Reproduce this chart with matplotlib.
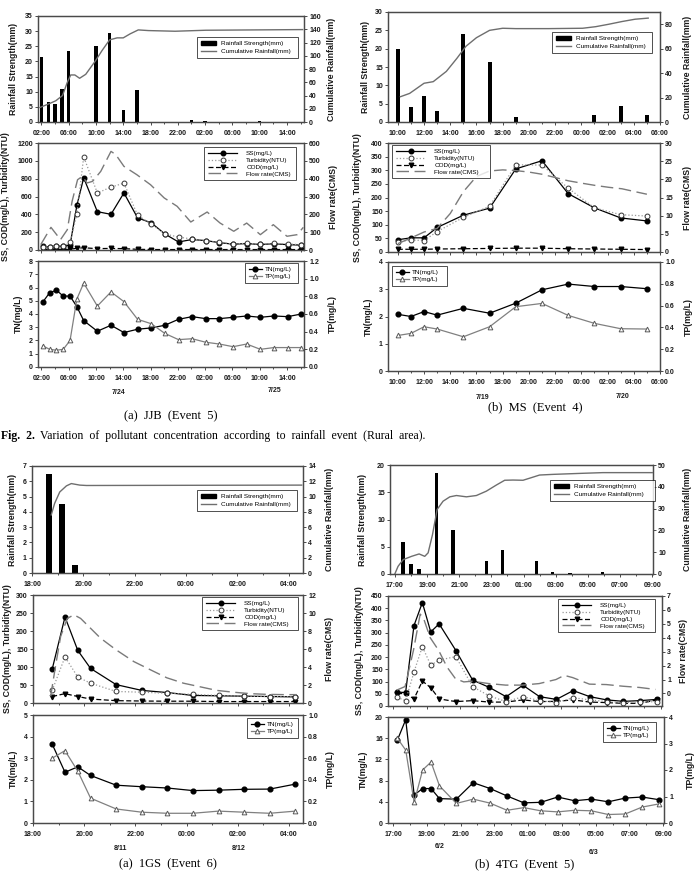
import matplotlib
matplotlib.use("Agg")
import matplotlib.pyplot as plt
from matplotlib.patches import Patch
from matplotlib.lines import Line2D
from matplotlib.ticker import MultipleLocator

W, H = 697, 876
plt.rcParams['font.family'] = ['Liberation Sans', 'DejaVu Sans']

# ---------------- JJB (Event 5), hours after 02:00 7/24 ----------------
jjb_xticks = [0, 4, 8, 12, 16, 20, 24, 28, 32, 36]
jjb_xlabels = ['02:00', '06:00', '10:00', '14:00', '18:00', '22:00',
               '02:00', '06:00', '10:00', '14:00']
jjb_rain_t = [0, 1, 2, 3, 4, 8, 10, 12, 14, 22, 24, 32]
jjb_rain = [21.3, 6.5, 6.0, 11.0, 23.5, 25.0, 29.5, 4.0, 10.5, 0.8, 0.3, 0.3]
jjb_cum_t = [-0.2, 1.0, 2.1, 3.1, 3.8, 4.3, 4.9, 5.6, 6.5, 7.9, 8.9, 10.0,
             11.1, 12.0, 13.0, 14.2, 15.7, 19.6, 24.1, 38.3]
jjb_cum = [22, 27, 32, 40, 60, 71, 71, 66, 72, 92, 108, 124,
           127, 127, 133, 139, 138, 137, 138.5, 139.5]
jjb_t = [0.2, 1.2, 2.2, 3.2, 4.2, 5.2, 6.2, 8.2, 10.2, 12.1, 14.1, 16.1,
         18.1, 20.1, 22.1, 24.1, 26.1, 28.1, 30.1, 32.1, 34.1, 36.1, 38.1]
jjb_ss = [40, 35, 45, 40, 55, 500, 810, 430, 400, 640, 360, 305,
          180, 90, 118, 105, 83, 65, 72, 62, 70, 60, 55]
jjb_turb = [35, 35, 45, 45, 85, 400, 1045, 640, 705, 750, 390, 290,
            180, 145, 123, 105, 86, 67, 75, 64, 75, 67, 60]
jjb_cod = [5, 5, 5, 5, 8, 20, 25, 15, 18, 15, 8, 5,
           5, 5, 5, 5, 5, 5, 5, 5, 5, 5, 5]
jjb_flow_t = [-0.1, 1.4, 2.8, 3.8, 4.5, 5.3, 6.0, 6.7, 7.5, 8.7, 10.2, 10.9,
              12.1, 14.0, 16.0, 18.0, 19.9, 21.9, 24.3, 26.2, 28.2, 30.1,
              32.1, 34.0, 36.0, 37.5, 38.4]
jjb_flow = [30, 127, 58, 114, 273, 394, 413, 376, 385, 441, 553, 535,
            469, 422, 366, 292, 245, 157, 213, 151, 105, 151,
            86, 142, 77, 86, 127]
jjb_tn = [4.9, 5.6, 5.8, 5.35, 5.35, 4.55, 3.5, 2.7, 3.15, 2.6, 2.85, 2.95,
          3.15, 3.6, 3.8, 3.65, 3.65, 3.75, 3.85, 3.75, 3.85, 3.8, 4.0]
jjb_tp = [0.24, 0.2, 0.19, 0.2, 0.3, 0.77, 0.95, 0.69, 0.85, 0.74, 0.54, 0.49,
          0.38, 0.31, 0.32, 0.28, 0.26, 0.23, 0.26, 0.2, 0.22, 0.22, 0.22]

# ---------------- MS (Event 4), hours after 10:00 7/19 ----------------
ms_xticks = [0, 2, 4, 6, 8, 10, 12, 14, 16, 18, 20]
ms_xlabels = ['10:00', '12:00', '14:00', '16:00', '18:00', '20:00',
              '22:00', '00:00', '02:00', '04:00', '06:00']
ms_rain_t = [0, 1, 2, 3, 5, 7, 9, 15, 17, 19]
ms_rain = [19.9, 4.0, 7.0, 2.9, 24.0, 16.5, 1.5, 2.0, 4.5, 2.0]
ms_cum_t = [0.2, 0.9, 2.0, 2.7, 3.7, 4.5, 5.2, 6.0, 7.0, 8.0, 9.0, 11.5,
            14.1, 15.1, 16.1, 17.1, 18.1, 19.1]
ms_cum = [20.7, 23.4, 31.7, 33, 41.4, 52, 62, 69, 75, 76.7, 76.4, 76.4,
          76.7, 78, 80, 82.2, 84.1, 85]
ms_t = [0, 1, 2, 3, 5, 7, 9, 11, 13, 15, 17, 19]
ms_ss = [45, 52, 52, 90, 135, 161, 305, 335, 214, 162, 125, 114]
ms_turb = [37, 44, 42, 75, 127, 168, 320, 319, 234, 162, 137, 132]
ms_cod = [10, 10, 10, 11, 12, 13, 14, 14, 12, 11, 10, 9]
ms_flow_t = [0, 0.9, 2.0, 3.0, 4.0, 5.0, 6.0, 7.0, 8.0, 9.0, 10.0, 11.0,
             12.0, 13.0, 14.1, 15.1, 16.1, 17.1, 18.1, 19.0]
ms_flow = [2.3, 3.7, 5.5, 6.5, 10.6, 16.6, 20.8, 22.3, 22.6, 22.4, 22.0, 21.4,
           20.5, 19.6, 18.9, 18.3, 17.8, 17.4, 16.6, 15.9]
ms_tn = [2.08, 2.0, 2.18, 2.05, 2.3, 2.12, 2.49, 2.98, 3.19, 3.1, 3.1, 3.02]
ms_tp = [0.326, 0.345, 0.406, 0.385, 0.314, 0.406, 0.59, 0.62, 0.51, 0.437,
         0.388, 0.385]

# ---------------- 1GS (Event 6), hours after 18:00 8/11 ----------------
gs_xticks = [0, 2, 4, 6, 8, 10]
gs_xlabels = ['18:00', '20:00', '22:00', '00:00', '02:00', '04:00']
gs_rain_t = [0.67, 1.17, 1.67]
gs_rain = [6.5, 4.5, 0.5]
gs_cum_t = [0.75, 0.88, 1.08, 1.34, 1.53, 1.86, 2.12, 10.5]
gs_cum = [7.6, 9.1, 10.6, 11.4, 11.7, 11.5, 11.45, 11.5]
gs_t = [0.75, 1.25, 1.75, 2.25, 3.25, 4.25, 5.25, 6.25, 7.25, 8.25, 9.25, 10.25]
gs_ss = [94, 239, 146, 96, 51, 35, 29, 21, 20, 19, 18, 17]
gs_turb = [35, 128, 72, 55, 32, 30, 27, 24, 21, 19, 18, 17]
gs_cod = [18, 26, 18, 11, 6.5, 5.5, 5, 5, 4, 4, 4, 4]
gs_flow_t = [0.69, 0.88, 1.08, 1.34, 1.6, 1.86, 2.25, 2.64, 3.25, 3.94, 4.58,
             5.23, 5.88, 6.53, 7.18, 7.83, 8.48, 9.13, 9.78, 10.3]
gs_flow = [0.74, 4.1, 7.4, 9.4, 9.8, 9.4, 8.3, 7.2, 5.9, 4.6, 3.7,
           2.8, 2.2, 1.8, 1.4, 1.2, 1.04, 0.96, 0.93, 0.93]
gs_tn = [3.65, 2.35, 2.6, 2.2, 1.75, 1.68, 1.62, 1.5, 1.52, 1.56, 1.57, 1.8]
gs_tp = [0.6, 0.67, 0.48, 0.23, 0.13, 0.1, 0.09, 0.09, 0.11, 0.1, 0.09, 0.11]

# ---------------- 4TG (Event 5), hours after 17:00 6/2 ----------------
tg_xticks = [0, 2, 4, 6, 8, 10, 12, 14, 16]
tg_xlabels = ['17:00', '19:00', '21:00', '23:00', '01:00', '03:00',
              '05:00', '07:00', '09:00']
tg_rain_t = [0.5, 1.0, 1.5, 2.6, 3.6, 5.7, 6.7, 8.8, 9.8, 10.9, 12.9]
tg_rain = [5.9, 1.9, 1.0, 18.6, 8.0, 2.45, 4.4, 2.45, 0.3, 0.2, 0.35]
tg_cum_t = [0, 0.2, 0.52, 1.04, 1.51, 1.86, 2.07, 2.34, 2.63, 3.0, 3.42, 3.83,
            4.45, 5.07, 5.69, 6.31, 6.83, 7.35, 7.97, 8.49, 9.0, 9.83, 11.7,
            12.94, 16.0]
tg_cum = [0, 3.5, 6.6, 8.1, 9.2, 8.1, 9.7, 18, 29.6, 33.4, 35.4, 36,
          35.4, 36, 38, 40.8, 43, 43.1, 43, 44.2, 45.4, 45.7, 46.2,
          46.5, 46.5]
tg_t = [0.25, 0.75, 1.25, 1.75, 2.25, 2.75, 3.75, 4.75, 5.75, 6.75, 7.75,
        8.75, 9.75, 10.75, 11.75, 12.75, 13.75, 14.75, 15.75]
tg_ss = [57, 55, 329, 423, 303, 336, 227, 106, 76, 38, 85,
         38, 27, 63, 38, 25, 19, 22, 27]
tg_turb = [35, 22, 139, 243, 167, 188, 202, 79, 41, 18, 38,
           22, 14, 34, 25, 18, 14, 16, 18]
tg_cod = [50, 52, 29, 102, 75, 29, 18, 22, 16, 16, 25,
          18, 19, 25, 16, 14, 11, 11, 25]
tg_flow_t = [0.22, 0.72, 1.22, 1.62, 1.82, 2.22, 2.72, 3.22, 3.72, 4.22, 4.72,
             5.72, 6.72, 7.72, 8.72, 9.72, 10.22, 10.72, 11.72, 12.72, 13.72,
             14.72, 15.66]
tg_flow = [0.24, 0.5, 3.1, 5.7, 5.4, 4.0, 3.1, 1.9, 1.07, 0.83, 0.88,
           0.71, 0.6, 0.6, 0.71, 1.0, 1.3, 1.14, 0.67, 0.64, 0.52,
           0.43, 0.29]
tg_tn = [15.6, 19.5, 5.3, 6.5, 6.5, 4.6, 4.5, 7.6, 6.5, 5.1, 3.8,
         3.9, 4.9, 4.2, 4.5, 4.0, 4.7, 4.9, 4.4]
tg_tp = [3.2, 2.75, 0.78, 2.0, 2.3, 1.4, 0.74, 0.9, 0.75, 0.48, 0.58,
         0.46, 0.42, 0.48, 0.46, 0.32, 0.34, 0.6, 0.72]

SPINE = '#4a4a4a'
TICK_FS = 5
LAB_FS = 6.3
LEG_FS = 4.6

fig = plt.figure(figsize=(W / 100, H / 100), dpi=100)


def rect(x0, y0, x1, y1):
    return [x0 / W, 1 - y1 / H, (x1 - x0) / W, (y1 - y0) / H]


def frame(ax):
    for s in ax.spines.values():
        s.set_color(SPINE)
        s.set_linewidth(0.9)
    ax.tick_params(which='both', direction='out', colors=SPINE,
                   labelcolor='#1a1a1a', width=0.7, length=2.2, pad=1.5)
    ax.tick_params(which='minor', length=1.4)


def set_x(ax, xlim, ticks, labels, minor, show):
    ax.set_xlim(xlim)
    ax.set_xticks(ticks)
    if show:
        ax.set_xticklabels(labels, fontweight='bold', fontsize=TICK_FS)
        ax.tick_params(axis='x', pad=3.5)
    else:
        ax.set_xticklabels([])
    ax.xaxis.set_minor_locator(MultipleLocator(minor))


def set_y(ax, lim, ticks, fmt='{:g}'):
    ax.set_ylim(lim)
    ax.set_yticks(ticks)
    ax.set_yticklabels([fmt.format(v) for v in ticks],
                       fontweight='bold', fontsize=TICK_FS)


def ylab(x, ax_box, text):
    yc = (ax_box[1] + ax_box[3]) / 2
    fig.text(x / W, 1 - yc / H, text, rotation=90, ha='center', va='center',
             fontsize=LAB_FS, fontweight='bold', color='#1a1a1a')


def legend(handles, labels, box, hl, tp=0.8, ls=0.25):
    x0, y0, x1, y1 = box
    lg = fig.legend(handles, labels, loc='upper left',
                    bbox_to_anchor=(x0 / W, 1 - y1 / H, (x1 - x0) / W, (y1 - y0) / H),
                    mode='expand', borderaxespad=0, fontsize=LEG_FS,
                    frameon=True, fancybox=False, edgecolor='black',
                    handlelength=hl, handletextpad=tp, labelspacing=ls,
                    borderpad=0.6, numpoints=1)
    lg.get_frame().set_linewidth(0.6)
    return lg


def rain_panel(box, t, rain, bw, ct, cum, xlim, xt, xl, minor,
               ly, lyt, ry, ryt, leg_box, lx, rx):
    ax = fig.add_axes(rect(*box))
    ax.bar(t, rain, width=bw, color='black', zorder=3)
    ax2 = ax.twinx()
    ax2.plot(ct, cum, color='#6e6e6e', lw=1.0)
    for a in (ax, ax2):
        frame(a)
    set_x(ax, xlim, xt, xl, minor, True)
    set_y(ax, ly, lyt)
    set_y(ax2, ry, ryt)
    ylab(lx, box, 'Rainfall Strength(mm)')
    ylab(rx, box, 'Cumulative Rainfall(mm)')
    legend([Patch(facecolor='black', edgecolor='black'),
            Line2D([], [], color='#6e6e6e', lw=1.0)],
           ['Rainfall Strength(mm)', 'Cumulative Rainfall(mm)'],
           leg_box, 2.3, tp=0.8, ls=0.35)


def quality_panel(box, t, ss, turb, cod, ft, flow, xlim, xt, minor,
                  ly, lyt, ry, ryt, leg_box, lx, rx):
    ax = fig.add_axes(rect(*box))
    h1, = ax.plot(t, ss, color='black', lw=0.9, marker='o', ms=3.3,
                  mfc='black', mec='black', zorder=4)
    h2, = ax.plot(t, turb, color='#9a9a9a', lw=0.9, ls=':', marker='o',
                  ms=3.5, mfc='white', mec='#333333', mew=0.7, zorder=5)
    h3, = ax.plot(t, cod, color='black', lw=0.9, ls=(0, (4, 2)), marker='v',
                  ms=3.3, mfc='black', mec='black', zorder=3)
    ax2 = ax.twinx()
    h4, = ax2.plot(ft, flow, color='#7a7a7a', lw=1.0, ls=(0, (9, 4)))
    for a in (ax, ax2):
        frame(a)
    set_x(ax, xlim, xt, [], minor, False)
    set_y(ax, ly, lyt)
    set_y(ax2, ry, ryt)
    ylab(lx, box, 'SS, COD(mg/L), Turbidity(NTU)')
    ylab(rx, box, 'Flow rate(CMS)')
    legend([h1, h2, h3, h4],
           ['SS(mg/L)', 'Turbidity(NTU)', 'COD(mg/L)', 'Flow rate(CMS)'],
           leg_box, 4.6, tp=1.4, ls=0.2)


def nutrient_panel(box, t, tn, tp, xlim, xt, xl, minor,
                   ly, lyt, ry, ryt, rfmt, leg_box, lx, rx):
    ax = fig.add_axes(rect(*box))
    h1, = ax.plot(t, tn, color='black', lw=0.9, marker='o', ms=3.4,
                  mfc='black', mec='black', zorder=4)
    ax2 = ax.twinx()
    h2, = ax2.plot(t, tp, color='#808080', lw=0.9, marker='^', ms=3.4,
                   mfc='white', mec='#5a5a5a', mew=0.7)
    for a in (ax, ax2):
        frame(a)
    set_x(ax, xlim, xt, xl, minor, True)
    set_y(ax, ly, lyt)
    set_y(ax2, ry, ryt, rfmt)
    ylab(lx, box, 'TN(mg/L)')
    ylab(rx, box, 'TP(mg/L)')
    legend([h1, h2], ['TN(mg/L)', 'TP(mg/L)'], leg_box, 2.0, tp=0.5, ls=0.2)


def r(a, b, s):
    out, v = [], a
    while v <= b + 1e-9:
        out.append(round(v, 3))
        v += s
    return out


# ---- (a) JJB ----
jjb_xlim = (-0.5, 38.5)
rain_panel((38, 16, 304, 122), jjb_rain_t, jjb_rain, 0.5, jjb_cum_t, jjb_cum,
           jjb_xlim, jjb_xticks, jjb_xlabels, 2, (0, 35), r(0, 35, 5),
           (0, 160), r(0, 160, 20), (197, 37, 298, 61), 14, 332)
quality_panel((38, 143, 304, 250), jjb_t, jjb_ss, jjb_turb, jjb_cod,
              jjb_flow_t, jjb_flow, jjb_xlim, jjb_xticks, 2,
              (0, 1200), r(0, 1200, 200), (0, 600), r(0, 600, 100),
              (204, 147, 296, 189), 6, 333)
nutrient_panel((38, 261, 304, 367), jjb_t, jjb_tn, jjb_tp, jjb_xlim,
               jjb_xticks, jjb_xlabels, 2, (0, 8), r(0, 8, 1),
               (0, 1.2), r(0, 1.2, 0.2), '{:.1f}', (245, 263, 298, 286), 18, 332)

# ---- (b) MS ----
ms_xlim = (-0.75, 19.9)
rain_panel((388, 12, 660, 122), ms_rain_t, ms_rain, 0.3, ms_cum_t, ms_cum,
           ms_xlim, ms_xticks, ms_xlabels, 1, (0, 30), r(0, 30, 5),
           (0, 90), r(0, 80, 20), (552, 32, 652, 58), 365, 687)
quality_panel((388, 143, 660, 252), ms_t, ms_ss, ms_turb, ms_cod,
              ms_flow_t, ms_flow, ms_xlim, ms_xticks, 1,
              (0, 400), r(0, 400, 50), (0, 30), r(0, 30, 5),
              (392, 145, 490, 187), 358, 687)
nutrient_panel((388, 262, 660, 371), ms_t, ms_tn, ms_tp, ms_xlim,
               ms_xticks, ms_xlabels, 1, (0, 4), r(0, 4, 1),
               (0, 1.0), r(0, 1.0, 0.2), '{:.1f}', (392, 266, 447, 288), 368, 688)

# ---- (a) 1GS ----
gs_xlim = (0, 10.55)
rain_panel((32, 466, 303, 573), gs_rain_t, gs_rain, 0.23, gs_cum_t, gs_cum,
           gs_xlim, gs_xticks, gs_xlabels, 1, (0, 7), r(0, 7, 1),
           (0, 14), r(0, 14, 2), (197, 490, 297, 515), 13, 330)
quality_panel((33, 595, 303, 703), gs_t, gs_ss, gs_turb, gs_cod,
              gs_flow_t, gs_flow, gs_xlim, gs_xticks, 1,
              (0, 300), r(0, 300, 50), (0, 12), r(0, 12, 2),
              (202, 597, 298, 642), 8, 330)
nutrient_panel((33, 715, 303, 823), gs_t, gs_tn, gs_tp, gs_xlim,
               gs_xticks, gs_xlabels, 1, (0, 5), r(0, 5, 1),
               (0, 1.0), r(0, 1.0, 0.2), '{:.1f}', (247, 718, 298, 740), 13, 330)

# ---- (b) 4TG ----
tg_xlim = (-0.3, 16.05)
rain_panel((390, 465, 653, 574), tg_rain_t, tg_rain, 0.22, tg_cum_t, tg_cum,
           tg_xlim, tg_xticks, tg_xlabels, 1, (0, 20), r(0, 20, 5),
           (0, 50), r(0, 50, 10), (550, 480, 655, 508), 363, 687)
quality_panel((388, 596, 662, 706), tg_t, tg_ss, tg_turb, tg_cod,
              tg_flow_t, tg_flow, tg_xlim, tg_xticks, 1,
              (0, 450), r(0, 450, 50), (-0.9, 7), r(0, 7, 1),
              (558, 599, 655, 643), 360, 684)
nutrient_panel((388, 717, 664, 823), tg_t, tg_tn, tg_tp, tg_xlim,
               tg_xticks, tg_xlabels, 1, (0, 20), r(0, 20, 4),
               (0, 4), r(0, 4, 1), '{:g}', (603, 722, 656, 742), 363, 690)

# ---- dates and captions ----
date_kw = dict(ha='center', va='center', fontsize=5, fontweight='bold',
               color='#1a1a1a')
for x, y, s in [(119, 392, '7/24'), (275, 390, '7/25'),
                (483, 397, '7/19'), (623, 396, '7/20'),
                (120, 849, '8/11'), (239, 849, '8/12'),
                (440, 847, '6/2'), (594, 853, '6/3')]:
    fig.text(x / W, 1 - y / H, s, **date_kw)

cap_kw = dict(ha='center', va='center', fontsize=9,
              family=['Liberation Serif', 'DejaVu Serif'])
for x, y, s in [(171, 416, '(a)  JJB  (Event  5)'),
                (535, 407, '(b)  MS  (Event  4)'),
                (168, 864, '(a)  1GS  (Event  6)'),
                (525, 864, '(b)  4TG  (Event  5)')]:
    fig.text(x / W, 1 - y / H, s, **cap_kw)

fig.text(1 / W, 1 - 436 / H, 'Fig.  2.', ha='left', va='center', fontsize=8.5,
         fontweight='bold', family=['Liberation Serif', 'DejaVu Serif'])
fig.text(40 / W, 1 - 436 / H,
         'Variation  of  pollutant  concentration  according  to  rainfall  event  (Rural  area).',
         ha='left', va='center', fontsize=8.5,
         family=['Liberation Serif', 'DejaVu Serif'])

fig.savefig('out.png', dpi=100)
